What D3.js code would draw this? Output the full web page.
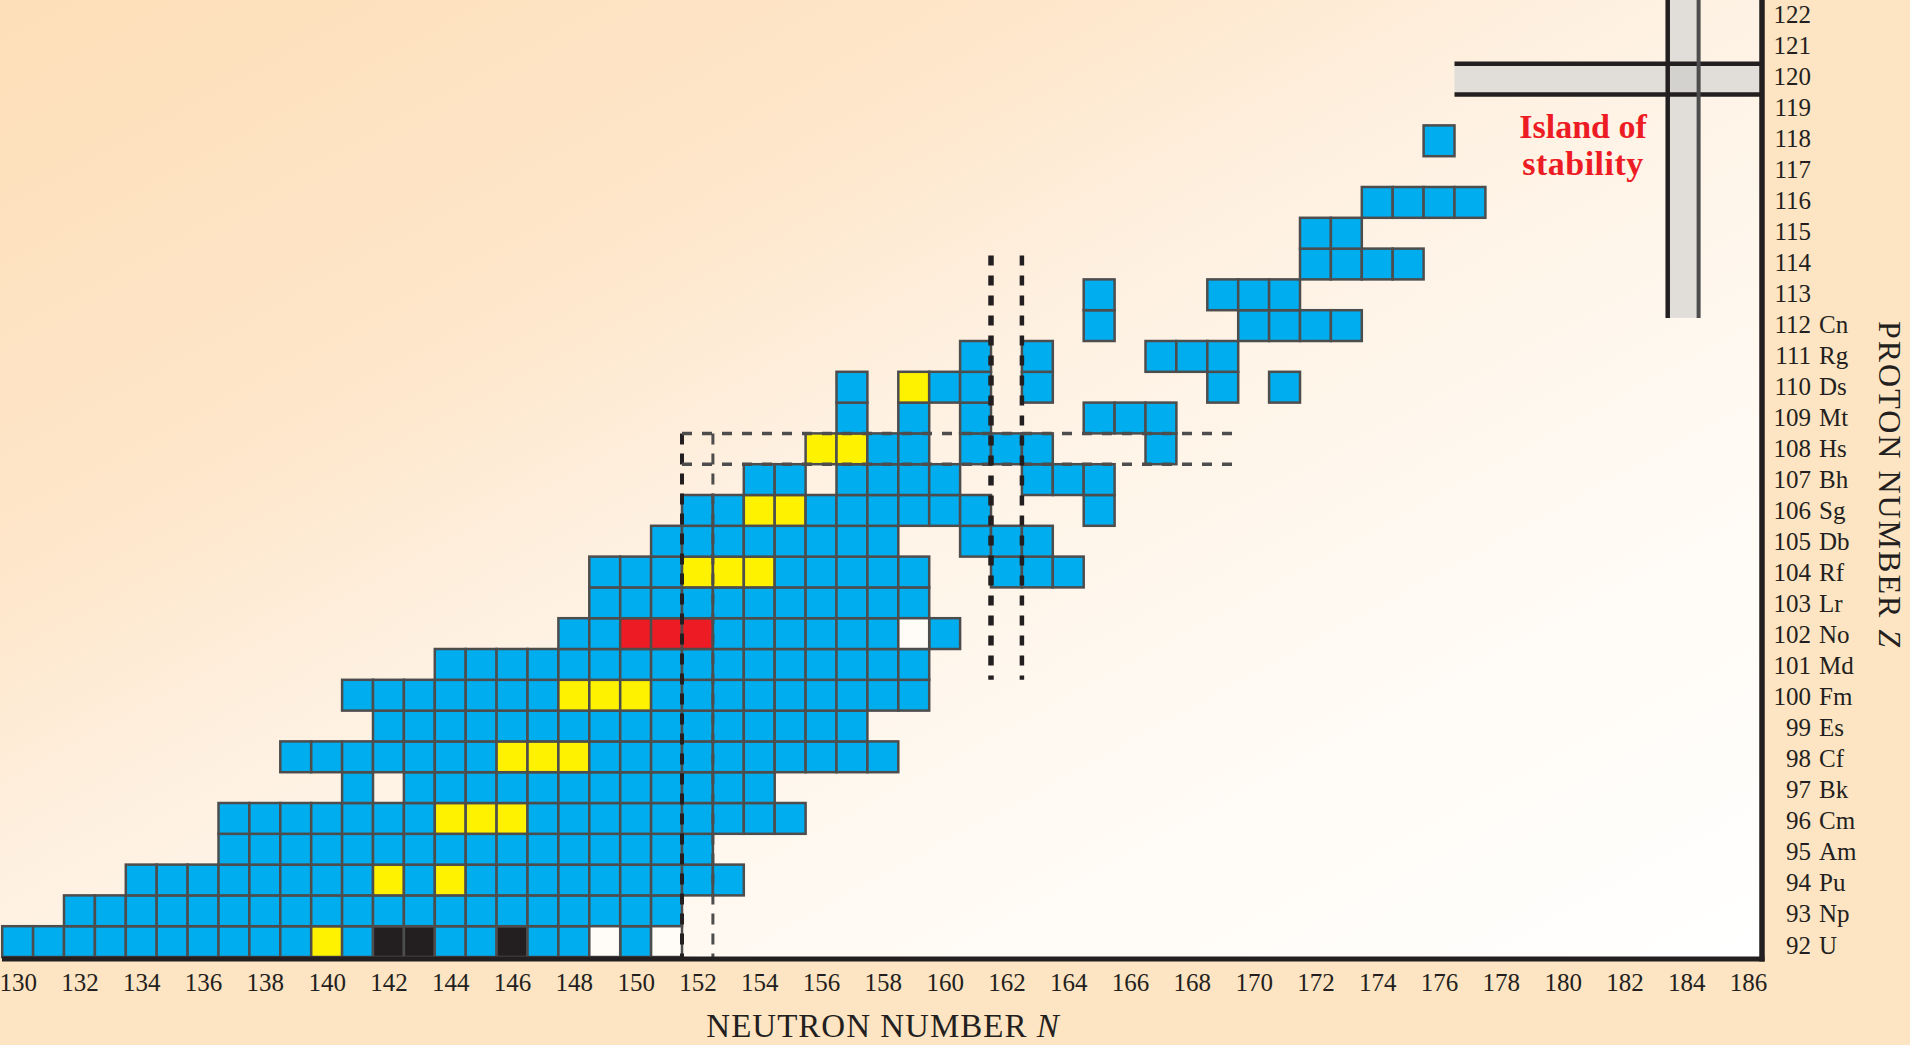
<!DOCTYPE html>
<html>
<head>
<meta charset="utf-8">
<script src="https://cdnjs.cloudflare.com/ajax/libs/d3/7.8.5/d3.min.js"></script>
<style>
  html, body { margin: 0; padding: 0; background: #fde4c2; overflow: hidden; }
  svg { display: block; }
  text { font-family: "Liberation Serif", "DejaVu Serif", serif; fill: #231f20; }
</style>
</head>
<body>
<svg id="chart"></svg>
<script>
// right-hand labels
const protonNumbers = [92, 93, 94, 95, 96, 97, 98, 99, 100, 101, 102, 103, 104, 105, 106,
                       107, 108, 109, 110, 111, 112, 113, 114, 115, 116, 117, 118, 119, 120, 121, 122];
const elementSymbols = ["U", "Np", "Pu", "Am", "Cm", "Bk", "Cf", "Es", "Fm", "Md", "No", "Lr", "Rf", "Db", "Sg",
                        "Bh", "Hs", "Mt", "Ds", "Rg", "Cn", "", "", "", "", "", "", "", "", "", ""];

// bottom labels
const neutronTicks = [130, 132, 134, 136, 138, 140, 142, 144, 146, 148, 150, 152, 154, 156, 158,
                      160, 162, 164, 166, 168, 170, 172, 174, 176, 178, 180, 182, 184, 186];

// known nuclides, one run per row: [Z, first N, last N]
const nuclideRuns = [
  [92, 130, 148], [92, 150, 150],
  [93, 132, 151],
  [94, 134, 153],
  [95, 137, 152],
  [96, 137, 155],
  [97, 141, 141], [97, 143, 154],
  [98, 139, 158],
  [99, 142, 157],
  [100, 141, 159],
  [101, 144, 159],
  [102, 148, 158], [102, 160, 160],
  [103, 149, 159],
  [104, 149, 159], [104, 162, 164],
  [105, 151, 158], [105, 161, 163],
  [106, 152, 161], [106, 165, 165],
  [107, 154, 155], [107, 157, 160], [107, 163, 165],
  [108, 156, 159], [108, 161, 163], [108, 167, 167],
  [109, 157, 157], [109, 159, 159], [109, 161, 161], [109, 165, 167],
  [110, 157, 157], [110, 159, 161], [110, 163, 163], [110, 169, 169], [110, 171, 171],
  [111, 161, 161], [111, 163, 163], [111, 167, 169],
  [112, 165, 165], [112, 170, 173],
  [113, 165, 165], [113, 169, 171],
  [114, 172, 175],
  [115, 172, 173],
  [116, 174, 177],
  [118, 176, 176]
];

// special cells: [N, Z]
const yellowCells = [[140, 92], [142, 94], [144, 94], [144, 96], [145, 96], [146, 96],
                     [146, 98], [147, 98], [148, 98], [148, 100], [149, 100], [150, 100],
                     [152, 104], [153, 104], [154, 104], [154, 106], [155, 106],
                     [156, 108], [157, 108], [159, 110]];
const redCells = [[150, 102], [151, 102], [152, 102]];
const blackCells = [[142, 92], [143, 92], [146, 92]];
const whiteCells = [[149, 92], [151, 92], [159, 102]];

// shell closures marked on the chart
const deformedN = [152, 162];
const deformedZ = 108;
const islandN = 184;
const islandZ = 120;

let width = 1910;
let height = 1045;
let plotRight = 1762;
let plotBottom = 957;

let colors = {
    blue: "#00aeef",
    yellow: "#fff200",
    red: "#ed1c24",
    black: "#231f20",
    white: "#fffcf8"
};

let svg = d3.select("#chart").attr("width", width).attr("height", height);

let xScale = d3.scaleLinear().domain([129.5, 186.5]).range([2.2, 2.2 + 57 * 30.9]);
let yScale = d3.scaleLinear().domain([91.5, 122.5]).range([plotBottom, 2.2]);
let labelScale = d3.scaleLinear().domain([92, 122]).range([945, 14]);

// build the cell list from the runs
let cells = [];
nuclideRuns.forEach(([z, n0, n1]) => {
    for (let n = n0; n <= n1; n++) cells.push({ n: n, z: z, type: "blue" });
});
const setType = (list, type) => {
    list.forEach(([n, z]) => {
        let c = cells.find(d => d.n === n && d.z === z);
        if (c) c.type = type; else cells.push({ n: n, z: z, type: type });
    });
};
setType(yellowCells, "yellow");
setType(redCells, "red");
setType(blackCells, "black");
setType(whiteCells, "white");

const drawBackground = () => {
    let grad = svg.append("defs").append("linearGradient")
        .attr("id", "bg").attr("x1", 0).attr("y1", 0).attr("x2", 1).attr("y2", 1);
    [[0, "#fddfb8"], [0.3, "#fee6ca"], [0.47, "#fef1e2"], [0.72, "#fffaf3"], [1, "#ffffff"]]
        .forEach(([o, c]) => grad.append("stop").attr("offset", o).attr("stop-color", c));
    svg.append("rect").attr("x", 0).attr("y", 0)
        .attr("width", plotRight).attr("height", plotBottom)
        .attr("fill", "url(#bg)");
};

const drawCells = () => {
    svg.append("g").selectAll("rect")
        .data(cells)
        .enter()
        .append("rect")
        .attr("x", d => xScale(d.n - 0.5))
        .attr("y", d => yScale(d.z + 0.5))
        .attr("width", d => xScale(d.n + 0.5) - xScale(d.n - 0.5))
        .attr("height", d => yScale(d.z - 0.5) - yScale(d.z + 0.5))
        .attr("fill", d => colors[d.type])
        .attr("stroke", "#4d4d4d")
        .attr("stroke-width", 2.5);
};

const drawIsland = () => {
    let g = svg.append("g");
    let bandTop = yScale(islandZ + 0.5), bandBot = yScale(islandZ - 0.5);
    let colL = xScale(islandN - 0.6), colR = xScale(islandN + 0.4);
    let colBottom = yScale(112.25);
    let bandLeft = xScale(176.5);
    g.append("rect").attr("x", bandLeft).attr("y", bandTop)
        .attr("width", plotRight - bandLeft).attr("height", bandBot - bandTop).attr("fill", "#e1ded9");
    g.append("rect").attr("x", colL).attr("y", 0)
        .attr("width", colR - colL).attr("height", colBottom).attr("fill", "#e1ded9");
    g.append("rect").attr("x", colL).attr("y", bandTop)
        .attr("width", colR - colL).attr("height", bandBot - bandTop).attr("fill", "#d4d2ce");
    [bandTop, bandBot].forEach(y => {
        g.append("line").attr("x1", bandLeft).attr("x2", plotRight)
            .attr("y1", y).attr("y2", y).attr("stroke", "#231f20").attr("stroke-width", 4.5);
    });
    g.append("line").attr("x1", colL).attr("x2", colL).attr("y1", 0).attr("y2", colBottom)
        .attr("stroke", "#231f20").attr("stroke-width", 4.5);
    g.append("line").attr("x1", colR).attr("x2", colR).attr("y1", 0).attr("y2", colBottom)
        .attr("stroke", "#4d4d4d").attr("stroke-width", 4);

    svg.append("text").attr("x", 1583).attr("y", 138).attr("text-anchor", "middle")
        .style("font-size", "34px").style("font-weight", "bold").style("fill", colors.red)
        .text("Island of");
    svg.append("text").attr("x", 1583).attr("y", 175).attr("text-anchor", "middle")
        .style("font-size", "34px").style("font-weight", "bold").style("fill", colors.red)
        .style("letter-spacing", "0.5px")
        .text("stability");
};

const drawShells = () => {
    let g = svg.append("g").attr("fill", "none");
    // N = 152 pair, from Z = 108 down to the axis
    let n152 = deformedN[0];
    g.append("line").attr("x1", xScale(n152 - 0.5)).attr("x2", xScale(n152 - 0.5))
        .attr("y1", yScale(deformedZ + 0.5)).attr("y2", plotBottom)
        .attr("stroke", "#231f20").attr("stroke-width", 4).attr("stroke-dasharray", "11,9");
    g.append("line").attr("x1", xScale(n152 + 0.5)).attr("x2", xScale(n152 + 0.5))
        .attr("y1", yScale(deformedZ + 0.5)).attr("y2", plotBottom)
        .attr("stroke", "#4d4d4d").attr("stroke-width", 3).attr("stroke-dasharray", "11,9");
    // Z = 108 pair
    [deformedZ + 0.5, deformedZ - 0.5].forEach(z => {
        g.append("line").attr("x1", xScale(n152 - 0.5)).attr("x2", xScale(169.5))
            .attr("y1", yScale(z)).attr("y2", yScale(z))
            .attr("stroke", "#4d4d4d").attr("stroke-width", 3.5).attr("stroke-dasharray", "10,10");
    });
    // N = 162 pair
    let n162 = deformedN[1];
    [n162 - 0.5, n162 + 0.5].forEach((n, i) => {
        g.append("line").attr("x1", xScale(n)).attr("x2", xScale(n))
            .attr("y1", yScale(114.28)).attr("y2", yScale(100.5))
            .attr("stroke", "#231f20").attr("stroke-width", i === 0 ? 5.5 : 4.5)
            .attr("stroke-dasharray", "10,10");
    });
};

const drawAxes = () => {
    svg.append("line").attr("x1", 2).attr("x2", plotRight + 2.5)
        .attr("y1", plotBottom + 2).attr("y2", plotBottom + 2)
        .attr("stroke", "#231f20").attr("stroke-width", 5);
    svg.append("line").attr("x1", plotRight).attr("x2", plotRight)
        .attr("y1", 0).attr("y2", plotBottom + 4.5)
        .attr("stroke", "#231f20").attr("stroke-width", 5.5);

    let xAxis = d3.axisBottom(xScale).tickValues(neutronTicks).tickSize(0);
    let gx = svg.append("g")
        .attr("transform", "translate(0, " + (plotBottom + 2) + ")")
        .call(xAxis);
    gx.select(".domain").remove();
    gx.selectAll("text").attr("dy", 0).attr("y", 32).style("font-size", "25px");

    let gy = svg.append("g");
    gy.selectAll(".znum")
        .data(protonNumbers)
        .enter()
        .append("text")
        .attr("class", "znum")
        .attr("x", 1811)
        .attr("y", d => labelScale(d) + 8.5)
        .attr("text-anchor", "end")
        .style("font-size", "25px")
        .text(d => d);
    gy.selectAll(".zsym")
        .data(protonNumbers)
        .enter()
        .append("text")
        .attr("class", "zsym")
        .attr("x", 1819)
        .attr("y", d => labelScale(d) + 8.5)
        .style("font-size", "25px")
        .text((d, i) => elementSymbols[i]);

    let xt = svg.append("text").attr("x", 883).attr("y", 1037)
        .attr("text-anchor", "middle").style("font-size", "33px").style("letter-spacing", "1px");
    xt.append("tspan").text("NEUTRON NUMBER ");
    xt.append("tspan").style("font-style", "italic").text("N");

    let yt = svg.append("text").attr("transform", "translate(1879, 485) rotate(90)")
        .attr("text-anchor", "middle").style("font-size", "32px").style("letter-spacing", "2px");
    yt.append("tspan").text("PROTON NUMBER ");
    yt.append("tspan").style("font-style", "italic").text("Z");
};

drawBackground();
drawCells();
drawIsland();
drawShells();
drawAxes();
</script>
</body>
</html>
